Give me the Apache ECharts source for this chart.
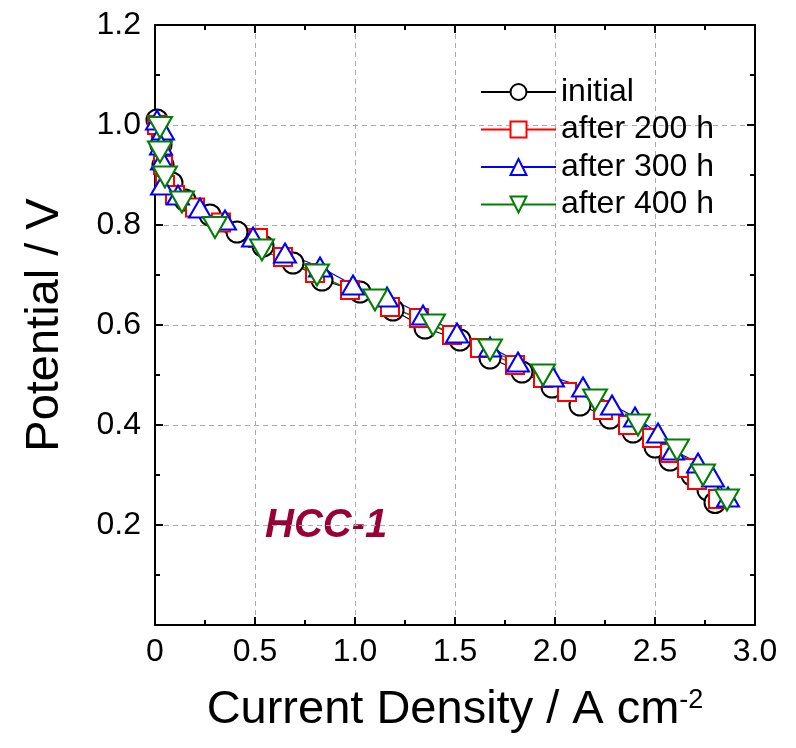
<!DOCTYPE html>
<html><head><meta charset="utf-8">
<script src="https://cdn.jsdelivr.net/npm/echarts@6/dist/echarts.min.js"></script>
<style>html,body{margin:0;padding:0;background:#fff}#c{width:796px;height:748px}</style>
</head><body><div id="c"></div>
<script>
// Data: [current density (A cm^-2), potential (V)]
const seriesNames = ['initial', 'after 200 h', 'after 300 h', 'after 400 h'];
const initialData = [[0.01,1.01],[0.03,0.96],[0.04,0.92],[0.085,0.884],[0.15,0.85],[0.275,0.82],[0.41,0.786],[0.54,0.758],[0.69,0.724],[0.835,0.69],[1.025,0.666],[1.19,0.63],[1.35,0.594],[1.525,0.57],[1.675,0.534],[1.835,0.506],[1.985,0.476],[2.125,0.44],[2.275,0.414],[2.39,0.386],[2.5,0.356],[2.575,0.33],[2.685,0.30],[2.765,0.27],[2.80,0.245]];
const after200Data = [[0.01,1.0],[0.03,0.96],[0.04,0.92],[0.05,0.88],[0.10,0.86],[0.20,0.835],[0.33,0.805],[0.515,0.774],[0.64,0.736],[0.80,0.704],[0.975,0.67],[1.175,0.636],[1.32,0.614],[1.485,0.58],[1.625,0.554],[1.80,0.52],[1.94,0.494],[2.06,0.466],[2.24,0.43],[2.365,0.40],[2.485,0.374],[2.575,0.344],[2.66,0.314],[2.71,0.29],[2.815,0.252]];
const after300Data = [[0.01,1.01],[0.04,0.99],[0.03,0.96],[0.035,0.93],[0.035,0.88],[0.115,0.86],[0.225,0.834],[0.35,0.81],[0.49,0.776],[0.65,0.744],[0.825,0.716],[0.99,0.68],[1.16,0.656],[1.34,0.62],[1.51,0.584],[1.675,0.556],[1.815,0.526],[1.99,0.496],[2.14,0.476],[2.285,0.44],[2.40,0.416],[2.515,0.384],[2.59,0.35],[2.715,0.324],[2.79,0.296],[2.865,0.256]];
const after400Data = [[0.025,0.995],[0.025,0.946],[0.05,0.896],[0.135,0.846],[0.30,0.795],[0.535,0.75],[0.81,0.70],[1.10,0.65],[1.39,0.60],[1.675,0.55],[1.94,0.50],[2.2,0.45],[2.415,0.40],[2.61,0.35],[2.74,0.30],[2.86,0.25]];
const xTicks = [0, 0.5, 1.0, 1.5, 2.0, 2.5, 3.0];
const yTicks = [0.2, 0.4, 0.6, 0.8, 1.0, 1.2];
const annotation = 'HCC-1';

const font = '"Liberation Sans", Arial, sans-serif';
const chart = echarts.init(document.getElementById('c'));
const axisCommon = {
  axisLine: {show: true, onZero: false, lineStyle: {color: '#000', width: 2}},
  axisTick: {show: true, inside: true, length: 8, lineStyle: {color: '#000', width: 2}},
  minorTick: {show: true, splitNumber: 2, length: 5, lineStyle: {color: '#000', width: 2}},
};
function mk(name, data, symbol, color, size, rot) {
  return {
    name, type: 'line', data, symbol, symbolSize: size, symbolRotate: rot || 0,
    showAllSymbol: true,
    lineStyle: {color, width: 1.3},
    itemStyle: {color, borderColor: color, borderWidth: 1.6},
    emphasis: {disabled: true}, animation: false
  };
}
chart.setOption({
  animation: false,
  grid: {left: 155, right: 41, top: 25, bottom: 123},
  legend: {
    orient: 'vertical', left: 475, top: 71, itemWidth: 75, itemHeight: 20, itemGap: 5.5,
    textStyle: {fontFamily: font, fontSize: 32, color: '#000'},
    data: seriesNames
  },
  xAxis: [{
    type: 'value', min: 0, max: 3, interval: 0.5, position: 'bottom',
    ...axisCommon,
    axisLabel: {fontFamily: font, fontSize: 32, color: '#000', margin: 11,
      formatter: v => v === 0 ? '0' : v.toFixed(1)},
    splitLine: {show: true, lineStyle: {color: '#aaa', type: [5, 4], width: 1}},
    name: 'Current Density / A cm{sup|-2}', nameLocation: 'middle', nameGap: 62,
    nameTextStyle: {fontFamily: font, fontSize: 47, color: '#000', rich: {sup: {fontSize: 27, verticalAlign: 'top', padding: [0,0,18,0], fontFamily: font, color:'#000'}}}
  }, {
    type: 'value', min: 0, max: 3, interval: 0.5, position: 'top',
    ...axisCommon, axisLabel: {show: false}, splitLine: {show: false}
  }],
  yAxis: [{
    type: 'value', min: 0, max: 1.2, interval: 0.2, position: 'left',
    ...axisCommon,
    axisLabel: {fontFamily: font, fontSize: 32, color: '#000', margin: 14,
      formatter: v => v === 0 ? '' : v.toFixed(1)},
    splitLine: {show: true, lineStyle: {color: '#aaa', type: [5, 4], width: 1}},
    name: 'Potential / V', nameLocation: 'middle', nameGap: 86,
    nameTextStyle: {fontFamily: font, fontSize: 47, color: '#000'}
  }, {
    type: 'value', min: 0, max: 1.2, interval: 0.2, position: 'right',
    ...axisCommon, axisLabel: {show: false}, splitLine: {show: false}
  }],
  graphic: [{
    type: 'text', left: 265, top: 506,
    style: {text: annotation, fontFamily: font, fontSize: 40, fontWeight: 'bold', fontStyle: 'italic', fill: '#990033'}
  }],
  series: [
    mk(seriesNames[0], initialData, 'emptyCircle', '#000000', 21),
    mk(seriesNames[1], after200Data, 'emptyRect', '#ff0000', 18),
    mk(seriesNames[2], after300Data, 'emptyTriangle', '#0000ff', [22, 19]),
    mk(seriesNames[3], after400Data, 'emptyTriangle', '#008000', [24, 21], 180)
  ]
});
</script></body></html>
